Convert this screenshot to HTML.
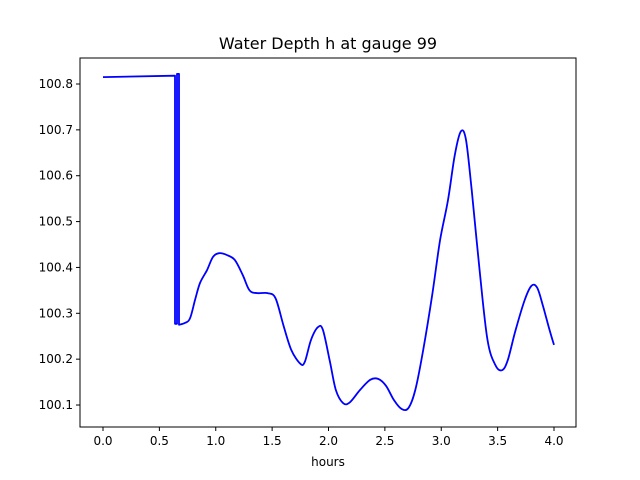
<!DOCTYPE html>
<html><head><meta charset="utf-8"><style>body{margin:0;background:#fff}svg{display:block;font-family:"DejaVu Sans","Liberation Sans",sans-serif}</style></head>
<body>
<svg id="chart" width="640" height="480">
<rect x="0" y="0" width="640" height="480" fill="#fff"/>
<text x="328" y="49" font-size="16" text-anchor="middle">Water Depth h at gauge 99</text>
<g id="axes"></g>
<rect x="80" y="58" width="496" height="369" fill="none" stroke="#000" stroke-width="1"/>
<text x="328" y="466" font-size="12" text-anchor="middle">hours</text>
</svg>
<script>
const times=[0,0.639,0.639,0.656,0.656,0.674,0.674,0.727,0.772,0.816,0.86,0.922,0.976,1.03,1.1,1.17,1.24,1.3,1.37,1.46,1.53,1.6,1.67,1.75,1.79,1.845,1.907,1.95,2.01,2.065,2.13,2.19,2.28,2.37,2.44,2.51,2.58,2.65,2.71,2.77,2.84,2.92,2.99,3.06,3.12,3.175,3.22,3.27,3.34,3.41,3.48,3.54,3.59,3.66,3.74,3.8,3.85,3.9,3.96,4.0];
const depths=[100.815,100.818,100.277,100.277,100.822,100.822,100.275,100.279,100.289,100.329,100.366,100.394,100.423,100.431,100.427,100.416,100.383,100.35,100.344,100.344,100.333,100.274,100.22,100.19,100.194,100.242,100.27,100.264,100.198,100.133,100.104,100.106,100.133,100.155,100.157,100.142,100.111,100.091,100.094,100.133,100.22,100.34,100.46,100.547,100.645,100.697,100.677,100.569,100.394,100.242,100.187,100.176,100.198,100.264,100.329,100.36,100.356,100.318,100.264,100.231];
const xTicks=["0.0","0.5","1.0","1.5","2.0","2.5","3.0","3.5","4.0"];
const yTicks=["100.1","100.2","100.3","100.4","100.5","100.6","100.7","100.8"];
const ns="http://www.w3.org/2000/svg";
const X=t=>103+t*112.75;
const Y=v=>84+(100.8-v)*458.6;
const g=document.getElementById('axes');
function mk(tag,attrs){const e=document.createElementNS(ns,tag);for(const k in attrs)e.setAttribute(k,attrs[k]);g.appendChild(e);return e;}
xTicks.forEach(s=>{const x=X(parseFloat(s));
const t=mk('line',{x1:x,x2:x,y1:427,y2:431,stroke:'#000'});


const l=mk('text',{x:x,y:445,'font-size':12,'text-anchor':'middle'});l.textContent=s;

});
yTicks.forEach(s=>{const y=Y(parseFloat(s));
const t=mk('line',{x1:76,x2:80,y1:y,y2:y,stroke:'#000'});


const l=mk('text',{x:73,y:y+4,'font-size':12,'text-anchor':'end'});l.textContent=s;

});
const P=times.map((t,i)=>[X(t),Y(depths[i])]);
const SM=6;
let d='M'+P[0][0].toFixed(1)+','+P[0][1].toFixed(1);
for(let i=1;i<=SM;i++)d+=' L'+P[i][0].toFixed(1)+','+P[i][1].toFixed(1);
for(let i=SM;i<P.length-1;i++){
const p0=P[Math.max(SM,i-1)],p1=P[i],p2=P[i+1],p3=P[Math.min(P.length-1,i+2)];
const c1=[p1[0]+(p2[0]-p0[0])/6,p1[1]+(p2[1]-p0[1])/6];
const c2=[p2[0]-(p3[0]-p1[0])/6,p2[1]-(p3[1]-p1[1])/6];
d+=' C'+c1.map(v=>v.toFixed(1)).join(',')+' '+c2.map(v=>v.toFixed(1)).join(',')+' '+p2.map(v=>v.toFixed(1)).join(',');
}
const p=mk('path',{d:d,fill:'none',stroke:'#0000ff','stroke-width':1.8,'stroke-linejoin':'round'});


</script>
</body></html>
